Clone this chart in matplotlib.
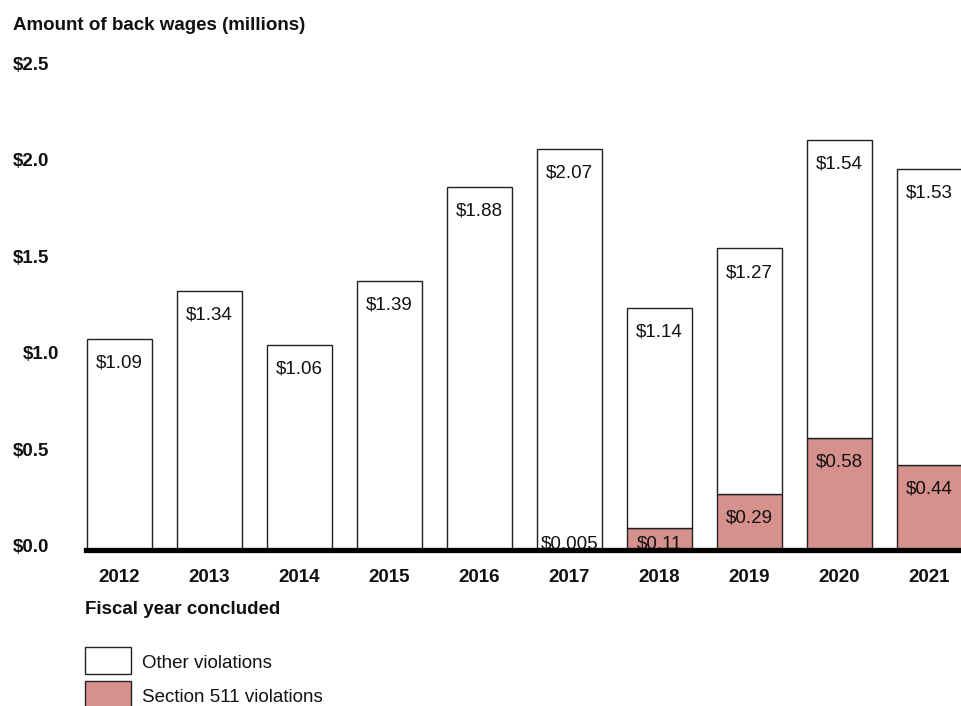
import matplotlib

matplotlib.use("Agg")
import matplotlib.pyplot as plt
import matplotlib.transforms as mtransforms
import numpy as np

plt.rcParams["font.family"] = ["Liberation Sans", "DejaVu Sans"]

years = ["2012", "2013", "2014", "2015", "2016", "2017", "2018", "2019", "2020", "2021"]
section_511 = [0.0, 0.0, 0.0, 0.0, 0.0, 0.005, 0.11, 0.29, 0.58, 0.44]
other = [1.09, 1.34, 1.06, 1.39, 1.88, 2.07, 1.14, 1.27, 1.54, 1.53]
section_labels = [None, None, None, None, None, "$0.005", "$0.11", "$0.29", "$0.58", "$0.44"]
y_ticks = [0.0, 0.5, 1.0, 1.5, 2.0, 2.5]

W, H = 962, 706
PINK = "#d6918d"
EDGE = "#222222"
FS = 13.5

fig = plt.figure(figsize=(W / 100, H / 100), dpi=100)


def fx(px):
    return px / W


def fy(py):
    return 1 - py / H


# axes: x=-0.5 at px 74.5, 90 px per bar; y 0..2.5 from px 549.5 to 67
ax = fig.add_axes([fx(74.5), fy(549.5), 900 / W, (549.5 - 67) / H])
ax.set_xlim(-0.5, 9.5)
ax.set_ylim(0, 2.5)
ax.axis("off")

x = np.arange(len(years))
bw = 0.722
sec = np.array(section_511)
oth = np.array(other)

ax.bar(x, sec, width=bw, color=PINK, edgecolor=EDGE, linewidth=1.0, zorder=2)
ax.bar(x, oth, width=bw, bottom=sec, color="white", edgecolor=EDGE, linewidth=1.0, zorder=2)

# value labels just inside the top of each segment
label_kw = dict(ha="center", va="center", fontsize=FS, color="#111111", zorder=3)
for i in range(len(years)):
    total = sec[i] + oth[i]
    ax.text(x[i], total - 0.125, f"${oth[i]:.2f}", **label_kw)
    if section_labels[i]:
        ax.text(x[i], max(sec[i] - 0.125, 0.03), section_labels[i], **label_kw)

# thick baseline
ax.axhline(0, xmin=(86 - 74.5) / 900, xmax=1, color="black", lw=3.8, zorder=5, clip_on=False)

# y tick labels, left aligned
trans = mtransforms.blended_transform_factory(fig.transFigure, ax.transData)
for v in y_ticks:
    xpos = 23 if v == 1.0 else 13
    ax.text(fx(xpos), v + 0.008, f"${v:.1f}", transform=trans, ha="left", va="center",
            fontsize=FS, fontweight="bold", color="#111111")

# year labels
trans_x = mtransforms.blended_transform_factory(ax.transData, fig.transFigure)
for i, yr in enumerate(years):
    ax.text(x[i], fy(577), yr, transform=trans_x, ha="center", va="center",
            fontsize=FS, fontweight="bold", color="#111111")

fig.text(fx(13), fy(25), "Amount of back wages (millions)", ha="left", va="center",
         fontsize=FS, fontweight="bold", color="#111111")
fig.text(fx(85), fy(609), "Fiscal year concluded", ha="left", va="center",
         fontsize=FS, fontweight="bold", color="#111111")

# legend
legend_items = [("Other violations", "white"), ("Section 511 violations", PINK)]
for k, (name, col) in enumerate(legend_items):
    top = 647 + 34 * k
    fig.patches.append(plt.Rectangle((fx(85), fy(top + 27)), 46 / W, 27 / H, transform=fig.transFigure,
                                     facecolor=col, edgecolor=EDGE, linewidth=1.0))
    fig.text(fx(142), fy(top + 17), name, ha="left", va="center", fontsize=FS, color="#111111")

fig.savefig("out.png", dpi=100)
